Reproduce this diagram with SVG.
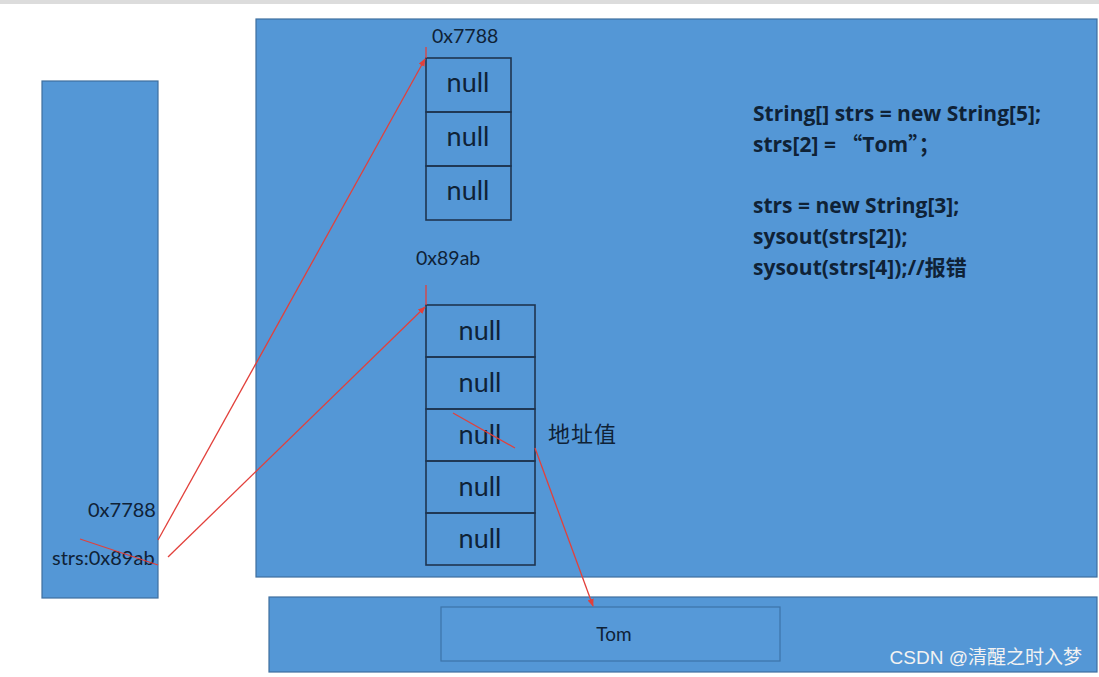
<svg xmlns="http://www.w3.org/2000/svg" width="1099" height="677" viewBox="0 0 1099 677">
<defs>
<style>
.box{fill:#5497d6;stroke:#3f6f9e;stroke-width:1.2}
.cell{fill:none;stroke:#1e3550;stroke-width:1.6}
.t{font-family:Lato,"Open Sans","Liberation Sans","Noto Sans CJK SC",sans-serif;fill:#0f2236}
.null{font-size:27px;text-anchor:middle}
.addr{font-size:19.5px}
.saddr{font-size:20px}
.code{font-family:"Open Sans","Liberation Sans","Noto Sans CJK SC",sans-serif;font-size:21px;font-weight:bold;fill:#0f2236}
.red{stroke:#e2403b;stroke-width:1.3;fill:none}
</style>
<marker id="ah" viewBox="0 0 10 10" refX="9" refY="5" markerWidth="6" markerHeight="6" orient="auto">
<path d="M0,1 L10,5 L0,9 z" fill="#e2403b"/>
</marker>
</defs>
<rect width="1099" height="677" fill="#ffffff"/>
<rect x="0" y="0" width="1099" height="4" fill="#dcdcdc"/>

<g id="stack">
<rect class="box" x="42" y="81" width="116" height="517"/>
<text class="t saddr" x="88" y="517">0x7788</text>
<text class="t saddr" x="52" y="565">strs:0x89ab</text>
</g>

<g id="heap">
<rect class="box" x="256" y="19" width="841" height="558"/>
</g>

<g id="array3">
<text class="t addr" x="432" y="43">0x7788</text>
<rect class="cell" x="426" y="58" width="85" height="54"/>
<rect class="cell" x="426" y="112" width="85" height="54"/>
<rect class="cell" x="426" y="166" width="85" height="54"/>
<text class="t null" x="468" y="92">null</text>
<text class="t null" x="468" y="146">null</text>
<text class="t null" x="468" y="200">null</text>
</g>

<g id="array5">
<text class="t addr" x="416" y="265">0x89ab</text>
<rect class="cell" x="426" y="305" width="109" height="52"/>
<rect class="cell" x="426" y="357" width="109" height="52"/>
<rect class="cell" x="426" y="409" width="109" height="52"/>
<rect class="cell" x="426" y="461" width="109" height="52"/>
<rect class="cell" x="426" y="513" width="109" height="52"/>
<text class="t null" x="480" y="340">null</text>
<text class="t null" x="480" y="392">null</text>
<text class="t null" x="480" y="444">null</text>
<text class="t null" x="480" y="496">null</text>
<text class="t null" x="480" y="548">null</text>
<text class="t" x="548" y="442" font-size="22" letter-spacing="1">地址值</text>
</g>

<g id="code">
<text class="code" x="753" y="121">String[] strs = new String[5];</text>
<text class="code" x="753" y="152">strs[2] = <tspan font-family="'Noto Sans CJK SC',sans-serif">“</tspan>Tom<tspan font-family="'Noto Sans CJK SC',sans-serif">”；</tspan></text>
<text class="code" x="753" y="213">strs = new String[3];</text>
<text class="code" x="753" y="244">sysout(strs[2]);</text>
<text class="code" x="753" y="275">sysout(strs[4]);//报错</text>
</g>

<g id="pool">
<rect class="box" x="269" y="597" width="828" height="75"/>
<rect x="441" y="607" width="339" height="54" fill="#5699d8" stroke="#3d73a8" stroke-width="1.2"/>
<text class="t" x="614" y="641" font-size="19" text-anchor="middle">Tom</text>
</g>

<g id="connectors">
<line class="red" x1="426" y1="47" x2="426" y2="58"/>
<line class="red" x1="426" y1="285" x2="426" y2="305"/>
<line class="red" x1="158" y1="540" x2="425" y2="59" marker-end="url(#ah)"/>
<line class="red" x1="168" y1="557" x2="425" y2="307" marker-end="url(#ah)"/>
<line class="red" x1="80" y1="539" x2="158" y2="565"/>
<line class="red" x1="453" y1="413" x2="515" y2="448"/>
<line class="red" x1="535" y1="448" x2="593" y2="606" marker-end="url(#ah)"/>
</g>

<text x="1082" y="664" font-family="'Liberation Sans','Noto Sans CJK SC',sans-serif" font-size="19" fill="#f2f2f2" text-anchor="end">CSDN @清醒之时入梦</text>
</svg>
